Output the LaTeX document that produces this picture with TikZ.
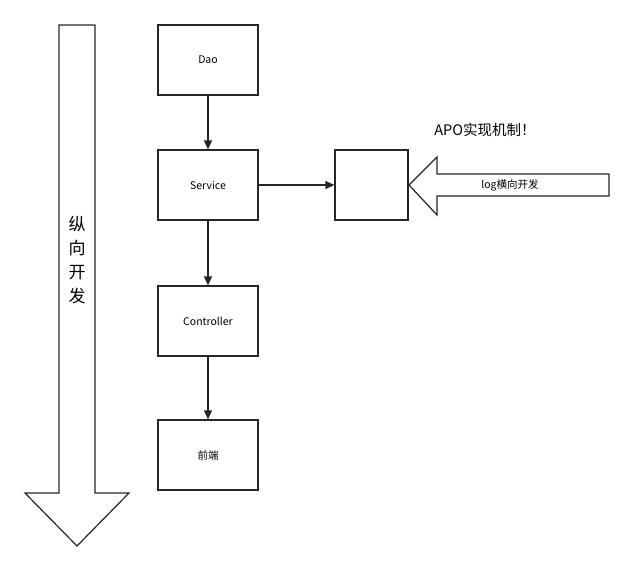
\documentclass[tikz,border=0pt]{standalone}
\usepackage{fontspec}
\setmainfont{Noto Sans CJK SC}
\usetikzlibrary{arrows.meta}
\begin{document}
\begin{tikzpicture}[x=1pt,y=-1pt,
  box/.style={draw=black!85,line width=1.2pt,minimum width=100pt,minimum height=70pt,font=\fontsize{10.5}{12}\selectfont,inner sep=0pt},
  conn/.style={draw=black!85,line width=1.2pt,-{Triangle[length=9pt,width=8pt]}},
  big/.style={draw=black!85,line width=1.2pt,fill=white}]
\useasboundingbox (0,0) rectangle (633,571);
\draw[big] (59,25) -- (95,25) -- (95,493) -- (129,493) -- (77,546) -- (25,493) -- (59,493) -- cycle;
\node[font=\fontsize{17}{24}\selectfont,align=center] (v) at (77,260) {纵\\向\\开\\发};
\node[box] (dao) at (208,60) {Dao};
\node[box] (svc) at (208,185) {Service};
\node[box] (ctl) at (208,321) {Controller};
\node[box] (fe) at (208,455) {前端};
\node[box,minimum width=73pt] (apo) at (371.5,185) {};
\draw[conn] (dao) -- (svc);
\draw[conn] (svc) -- (ctl);
\draw[conn] (ctl) -- (fe);
\draw[conn] (svc) -- (apo);
\draw[big] (609,174) -- (437,174) -- (437,157) -- (409,185) -- (437,215) -- (437,196) -- (609,196) -- cycle;
\node[font=\fontsize{10.5}{12}\selectfont] (log) at (510,185) {log横向开发};
\node[font=\fontsize{14.5}{16}\selectfont] (t) at (485,130) {APO实现机制！};
\end{tikzpicture}
\end{document}
